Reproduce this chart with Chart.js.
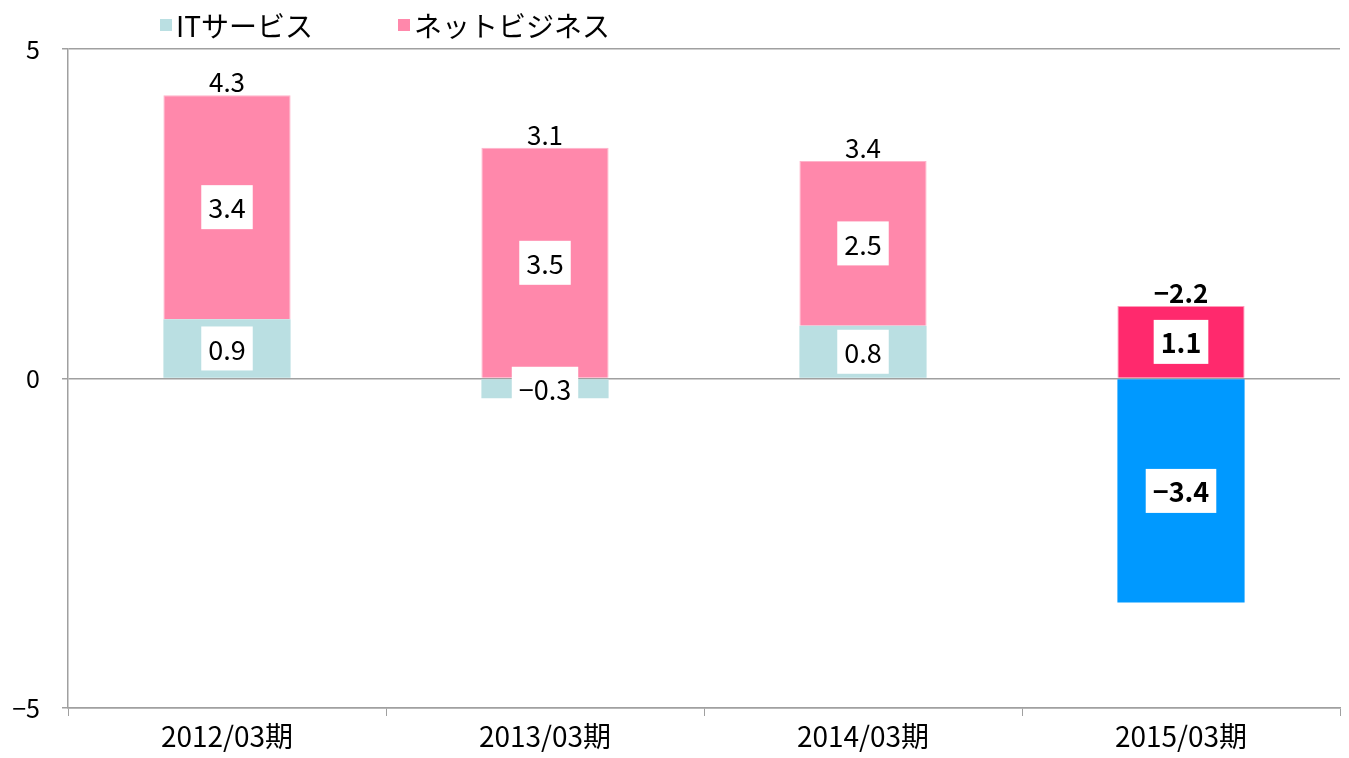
<!DOCTYPE html>
<html>
<head>
<meta charset="utf-8">
<script src="https://cdn.jsdelivr.net/npm/chart.js@4/dist/chart.umd.min.js"></script>
<style>
  html, body { margin: 0; padding: 0; background: #fff; }
  #wrap { width: 1349px; height: 758px; }
</style>
</head>
<body>
<div id="wrap"><canvas id="c" width="1349" height="758"></canvas></div>
<script>
const FONT = "'Noto Sans CJK JP', 'Noto Sans', sans-serif";

// data
const periods = ['2012/03期', '2013/03期', '2014/03期', '2015/03期'];
const itService = [0.9, -0.3, 0.8, -3.4];
const netBusiness = [3.4, 3.5, 2.5, 1.1];
const totals = ['4.3', '3.1', '3.4', '−2.2'];
const seriesNames = ['ITサービス', 'ネットビジネス'];

const itColors = ['#BADFE2', '#BADFE2', '#BADFE2', '#0099FF'];
const netColors = ['#FF88AB', '#FF88AB', '#FF88AB', '#FF296D'];
const boldBar = [false, false, false, true];

const fmt = v => (v < 0 ? '−' + Math.abs(v).toFixed(1) : v.toFixed(1));

// white boxed labels on each segment + totals above each stack
const labelPlugin = {
  id: 'segLabels',
  afterDatasetsDraw(chart) {
    const ctx = chart.ctx;
    const tops = [];
    ctx.save();
    chart.data.datasets.forEach((ds, di) => {
      const meta = chart.getDatasetMeta(di);
      meta.data.forEach((bar, i) => {
        const v = ds.data[i];
        const top = Math.min(bar.y, bar.base);
        tops[i] = tops[i] === undefined ? top : Math.min(tops[i], top);
        ctx.font = (boldBar[i] ? 'bold ' : '') + '27px ' + FONT;
        const txt = fmt(v);
        const w = ctx.measureText(txt).width + 14;
        const h = 44;
        const cy = (bar.y + bar.base) / 2;
        ctx.fillStyle = '#ffffff';
        ctx.fillRect(bar.x - w / 2, cy - h / 2, w, h);
        ctx.fillStyle = '#000000';
        ctx.textAlign = 'center';
        ctx.textBaseline = 'middle';
        ctx.fillText(txt, bar.x, cy + 1);
      });
    });
    const meta0 = chart.getDatasetMeta(0);
    totals.forEach((t, i) => {
      ctx.font = (boldBar[i] ? 'bold ' : '') + '26px ' + FONT;
      ctx.fillStyle = '#000000';
      ctx.textAlign = 'center';
      ctx.textBaseline = 'alphabetic';
      ctx.fillText(t, meta0.data[i].x, tops[i] - 3);
    });
    ctx.restore();
  }
};

// legend drawn by hand at the reference position
const legendPlugin = {
  id: 'topLegend',
  afterDraw(chart) {
    const ctx = chart.ctx;
    const items = [
      { x: 160, color: itColors[0], text: seriesNames[0] },
      { x: 398, color: netColors[0], text: seriesNames[1] }
    ];
    ctx.save();
    ctx.font = '28px ' + FONT;
    ctx.textBaseline = 'middle';
    ctx.textAlign = 'left';
    items.forEach(it => {
      ctx.fillStyle = it.color;
      ctx.fillRect(it.x, 19, 12, 12);
      ctx.fillStyle = '#000000';
      ctx.fillText(it.text, it.x + 16, 26);
    });
    ctx.restore();
  }
};

new Chart(document.getElementById('c'), {
  type: 'bar',
  data: {
    labels: periods,
    datasets: [
      {
        label: seriesNames[0],
        data: itService,
        backgroundColor: itColors,
        borderWidth: 0,
        barPercentage: 0.4,
        categoryPercentage: 1
      },
      {
        label: seriesNames[1],
        data: netBusiness,
        backgroundColor: netColors,
        borderColor: ['#FFB3CA', '#FFB3CA', '#FFB3CA', '#FF9AB8'],
        borderWidth: 1,
        barPercentage: 0.4,
        categoryPercentage: 1
      }
    ]
  },
  options: {
    responsive: false,
    animation: false,
    devicePixelRatio: 1,
    layout: { padding: { top: 49, right: 9, left: 0, bottom: 0 } },
    plugins: {
      legend: { display: false },
      tooltip: { enabled: false }
    },
    scales: {
      x: {
        stacked: true,
        grid: { drawOnChartArea: false, drawTicks: true, tickLength: 8, offset: true, color: '#A0A0A0' },
        border: { display: true, color: '#A0A0A0', width: 1.5 },
        ticks: { color: '#000', font: { family: FONT, size: 28 }, padding: 4 },
        afterFit: s => { s.height = 50; }
      },
      y: {
        stacked: true,
        min: -5,
        max: 5,
        ticks: {
          stepSize: 5,
          color: '#000',
          font: { family: FONT, size: 25 },
          padding: 22,
          callback: v => (v < 0 ? '−' + Math.abs(v) : String(v))
        },
        grid: { color: '#A0A0A0', lineWidth: 1.5, tickLength: 6 },
        border: { display: true, color: '#A0A0A0', width: 1.5 },
        afterFit: s => { s.width = 68; }
      }
    }
  },
  plugins: [labelPlugin, legendPlugin]
});
</script>
</body>
</html>
